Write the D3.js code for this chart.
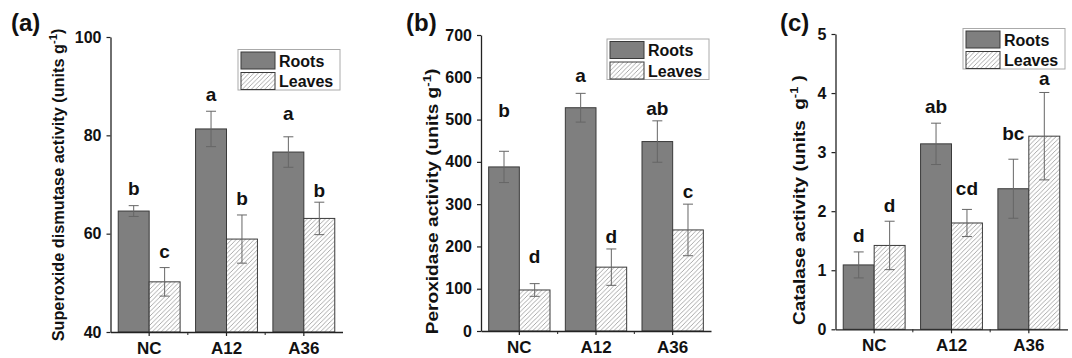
<!DOCTYPE html>
<html>
<head>
<meta charset="utf-8">
<script src="https://cdn.jsdelivr.net/npm/d3@7"></script>
<style>
  body { margin: 0; background: #fff; }
  svg { display: block; font-family: Arial, "Liberation Sans", sans-serif; }
  text { font-weight: bold; fill: #111; }
</style>
</head>
<body>
<script>
// categories and series
const categories = ["NC", "A12", "A36"];
const seriesNames = ["Roots", "Leaves"];

// (a) superoxide dismutase
const sodRoots = [64.6, 81.3, 76.6];
const sodRootsErr = [1.1, 3.6, 3.1];
const sodLeaves = [50.2, 58.9, 63.1];
const sodLeavesErr = [2.9, 4.9, 3.3];
const sodRootsLetters = ["b", "a", "a"];
const sodLeavesLetters = ["c", "b", "b"];
const sodRootsLetterY = [67.9, 86.9, 83.1];
const sodLeavesLetterY = [55.0, 65.8, 67.5];
const sodTicks = [40, 60, 80, 100];

// (b) peroxidase
const podRoots = [388, 528, 448];
const podRootsErr = [37, 34, 49];
const podLeaves = [97, 151, 239];
const podLeavesErr = [15, 43, 61];
const podRootsLetters = ["b", "a", "ab"];
const podLeavesLetters = ["d", "d", "c"];
const podRootsLetterY = [507, 590, 511];
const podLeavesLetterY = [160, 207, 314];
const podTicks = [0, 100, 200, 300, 400, 500, 600, 700];

// (c) catalase
const catRoots = [1.09, 3.14, 2.38];
const catRootsErr = [0.22, 0.35, 0.5];
const catLeaves = [1.42, 1.80, 3.27];
const catLeavesErr = [0.41, 0.23, 0.74];
const catRootsLetters = ["d", "ab", "bc"];
const catLeavesLetters = ["d", "cd", "a"];
const catRootsLetterY = [1.48, 3.66, 3.2];
const catLeavesLetterY = [1.99, 2.27, 4.14];
const catTicks = [0, 1, 2, 3, 4, 5];

const width = 1072, height = 358;

const svg = d3.select("body").append("svg")
    .attr("width", width)
    .attr("height", height);

const defs = svg.append("defs");
const hatch = defs.append("pattern")
    .attr("id", "hatch")
    .attr("patternUnits", "userSpaceOnUse")
    .attr("width", 4.5)
    .attr("height", 4.5);
hatch.append("rect").attr("width", 4.5).attr("height", 4.5).attr("fill", "#fff");
hatch.append("path")
    .attr("d", "M0,4.5 L4.5,0 M-1,1 L1,-1 M3.5,5.5 L5.5,3.5")
    .attr("stroke", "#a0a0a0")
    .attr("stroke-width", 0.9);

function makeRows(roots, rootsErr, leaves, leavesErr, rl, ll, rly, lly) {
    return categories.map(function(c, i) {
        return {
            cat: c,
            vals: [
                {s: "Roots", v: roots[i], e: rootsErr[i], letter: rl[i], ly: rly[i]},
                {s: "Leaves", v: leaves[i], e: leavesErr[i], letter: ll[i], ly: lly[i]}
            ]
        };
    });
}

const panels = [
    {
        tag: "(a)", tagX: 11,
        left: 110.5, top: 37, bottom: 332, w: 232,
        domain: [40, 100], ticks: sodTicks,
        title: "Superoxide dismutase activity (units g", titleEnd: ")",
        titleX: 58, titleY: 185, titleLen: 313,
        legX: 238, legY: 49.5,
        rows: makeRows(sodRoots, sodRootsErr, sodLeaves, sodLeavesErr,
            sodRootsLetters, sodLeavesLetters, sodRootsLetterY, sodLeavesLetterY)
    },
    {
        tag: "(b)", tagX: 406,
        left: 481, top: 35, bottom: 331, w: 230,
        domain: [0, 700], ticks: podTicks,
        title: "Peroxidase activity (units g", titleEnd: ")",
        titleX: 432, titleY: 201.5, titleLen: 266,
        legX: 607, legY: 39,
        rows: makeRows(podRoots, podRootsErr, podLeaves, podLeavesErr,
            podRootsLetters, podLeavesLetters, podRootsLetterY, podLeavesLetterY)
    },
    {
        tag: "(c)", tagX: 780,
        left: 835.5, top: 34, bottom: 329.3, w: 232,
        domain: [0, 5], ticks: catTicks,
        title: "Catalase activity (units\u00a0\u00a0g", titleEnd: "\u00a0)",
        titleX: 799, titleY: 200, titleLen: 250,
        legX: 963, legY: 28.5,
        rows: makeRows(catRoots, catRootsErr, catLeaves, catLeavesErr,
            catRootsLetters, catLeavesLetters, catRootsLetterY, catLeavesLetterY)
    }
];

panels.forEach(drawPanel);

function drawPanel(p) {
    const g = svg.append("g");

    const x = d3.scaleBand()
        .domain(categories)
        .range([p.left, p.left + p.w]);
    const bw = x.bandwidth();
    const xs = d3.scaleBand()
        .domain(seriesNames)
        .range([bw * 0.1, bw * 0.9]);
    const y = d3.scaleLinear()
        .domain(p.domain)
        .range([p.bottom, p.top]);

    // bars
    const groups = g.selectAll(".grp")
        .data(p.rows)
        .enter().append("g")
        .attr("transform", function(d) { return "translate(" + x(d.cat) + ",0)"; });

    groups.selectAll("rect")
        .data(function(d) { return d.vals; })
        .enter().append("rect")
        .attr("x", function(d) { return xs(d.s); })
        .attr("y", function(d) { return y(d.v); })
        .attr("width", xs.bandwidth())
        .attr("height", function(d) { return y(p.domain[0]) - y(d.v); })
        .attr("fill", function(d) { return d.s == "Roots" ? "#7f7f7f" : "url(#hatch)"; })
        .attr("stroke", "#3a3a3a")
        .attr("stroke-width", 1);

    // error bars
    const eb = groups.selectAll(".err")
        .data(function(d) { return d.vals; })
        .enter().append("g")
        .attr("stroke", "#666")
        .attr("stroke-width", 1);
    eb.append("line")
        .attr("x1", function(d) { return xs(d.s) + xs.bandwidth() / 2; })
        .attr("x2", function(d) { return xs(d.s) + xs.bandwidth() / 2; })
        .attr("y1", function(d) { return y(d.v + d.e); })
        .attr("y2", function(d) { return y(d.v - d.e); });
    eb.selectAll(".cap")
        .data(function(d) { return [d.v + d.e, d.v - d.e].map(function(v) { return {s: d.s, v: v}; }); })
        .enter().append("line")
        .attr("x1", function(d) { return xs(d.s) + xs.bandwidth() / 2 - 5; })
        .attr("x2", function(d) { return xs(d.s) + xs.bandwidth() / 2 + 5; })
        .attr("y1", function(d) { return y(d.v); })
        .attr("y2", function(d) { return y(d.v); });

    // significance letters
    groups.selectAll(".letter")
        .data(function(d) { return d.vals; })
        .enter().append("text")
        .attr("x", function(d) { return xs(d.s) + xs.bandwidth() / 2; })
        .attr("y", function(d) { return y(d.ly); })
        .attr("text-anchor", "middle")
        .style("font-size", "19px")
        .text(function(d) { return d.letter; });

    // axes
    const yAxis = g.append("g")
        .attr("transform", "translate(" + p.left + ",0)")
        .call(d3.axisLeft(y).tickValues(p.ticks).tickFormat(d3.format("d"))
            .tickSize(4).tickSizeOuter(0).tickPadding(5));
    yAxis.selectAll("text")
        .style("font-size", "16px")
        .style("font-family", "Arial, 'Liberation Sans', sans-serif");

    const xAxis = g.append("g")
        .attr("transform", "translate(0," + p.bottom + ")")
        .call(d3.axisBottom(x).tickSize(4).tickSizeOuter(0).tickPadding(6));
    xAxis.selectAll("text")
        .style("font-size", "17px")
        .style("font-family", "Arial, 'Liberation Sans', sans-serif");
    // minor ticks between categories
    xAxis.selectAll(".minor")
        .data(categories.slice(1))
        .enter().append("line")
        .attr("x1", function(d) { return x(d); })
        .attr("x2", function(d) { return x(d); })
        .attr("y1", 0)
        .attr("y2", 3)
        .attr("stroke", "#222");

    [yAxis, xAxis].forEach(function(a) {
        a.select(".domain").attr("stroke", "#222").attr("stroke-width", 1.3);
        a.selectAll(".tick line").attr("stroke", "#222").attr("stroke-width", 1.2);
    });

    // y title, stretched along its length to match the figure
    const t = g.append("text")
        .attr("text-anchor", "middle")
        .attr("dy", "0.35em")
        .style("font-size", "16px");
    t.append("tspan").text(p.title);
    t.append("tspan").style("font-size", "11px").attr("dy", "-0.6em").text("-1");
    t.append("tspan").attr("dy", "0.4em").text(p.titleEnd);
    const tw = t.node().getBBox().width;
    t.attr("transform", "translate(" + p.titleX + "," + p.titleY + ") rotate(-90) scale(" + (p.titleLen / tw) + ",1)");

    // panel tag
    g.append("text")
        .attr("x", p.tagX)
        .attr("y", 30.5)
        .style("font-size", "24px")
        .text(p.tag);

    // legend
    const leg = g.append("g")
        .attr("transform", "translate(" + p.legX + "," + p.legY + ")");
    leg.append("rect")
        .attr("width", 102)
        .attr("height", 40.5)
        .attr("fill", "#fff")
        .attr("stroke", "#aaa")
        .attr("stroke-width", 1);
    const items = leg.selectAll(".item")
        .data(seriesNames)
        .enter().append("g")
        .attr("transform", function(d, i) { return "translate(3," + (2.5 + i * 20.5) + ")"; });
    items.append("rect")
        .attr("width", 34)
        .attr("height", 17)
        .attr("fill", function(d) { return d == "Roots" ? "#7f7f7f" : "url(#hatch)"; })
        .attr("stroke", "#3a3a3a");
    items.append("text")
        .attr("x", 38)
        .attr("y", 14.5)
        .style("font-size", "16px")
        .text(function(d) { return d; });
}
</script>
</body>
</html>
